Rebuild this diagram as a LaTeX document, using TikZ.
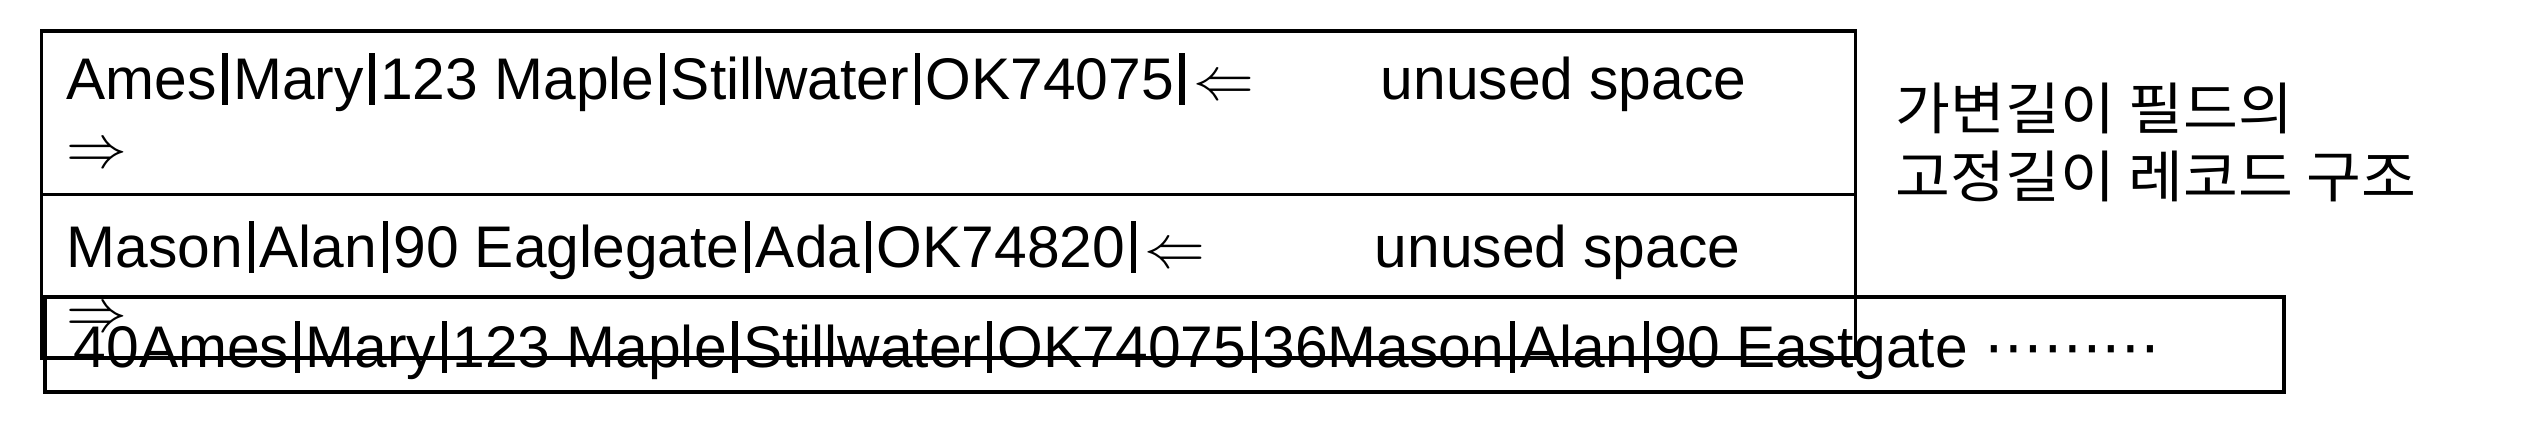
\documentclass[tikz,border=0pt]{standalone}
\usepackage{fontspec}
\setmainfont{Liberation Sans}
\newfontfamily\kofont[FakeStretch=1.06]{Noto Sans CJK KR}
\newfontfamily\symfont{DejaVu Sans}
\newcommand\vbar{\hspace{0.095em}\rule[-0.1em]{0.09em}{0.88em}\hspace{0.095em}}
\newcommand\larr{\hspace{0.05em}$\Leftarrow$}
\newcommand\rarr{$\Rightarrow$}
\newcommand\cdts{{\symfont ⋯⋯⋯}}
\begin{document}
\begin{tikzpicture}[x=0.01cm,y=-0.01cm,
  box/.style={draw=black, line width=1pt, inner sep=0pt, outer sep=0pt},
  txt/.style={anchor=base west, inner sep=0pt, font=\fontsize{16.7}{20}\selectfont},
  kor/.style={anchor=base west, inner sep=0pt, font=\kofont\fontsize{16}{19}\selectfont}]
\useasboundingbox (0,0) rectangle (2528,426);
% boxes
\node[box, minimum width=18.13cm, minimum height=3.27cm] (upper) at (948.5,194.5) {};
\draw[line width=1pt] (upper.west) -- (upper.east);
\node[box, line width=1.2pt, minimum width=22.37cm, minimum height=0.95cm] (lower) at (1164.5,344.5) {};
% texts
\node[txt] (r1) at (66,99) {Ames\vbar Mary\vbar 123 Maple\vbar Stillwater\vbar OK74075\vbar\larr};
\node[txt] (u1) at (1380,99) {unused space};
\node[txt] (a1) at (66,167) {\rarr};
\node[txt] (r2) at (66,267) {Mason\vbar Alan\vbar 90 Eaglegate\vbar Ada\vbar OK74820\vbar\larr};
\node[txt] (u2) at (1374,267) {unused space};
\node[txt] (a2) at (66,331) {\rarr};
\node[txt] (r3) at (73,367) {40Ames\vbar Mary\vbar 123 Maple\vbar Stillwater\vbar OK74075\vbar 36Mason\vbar Alan\vbar 90 Eastgate \cdts};
\node[kor] (k1) at (1895,129) {가변길이 필드의};
\node[kor] (k2) at (1895,197) {고정길이 레코드 구조};
\end{tikzpicture}
\end{document}
